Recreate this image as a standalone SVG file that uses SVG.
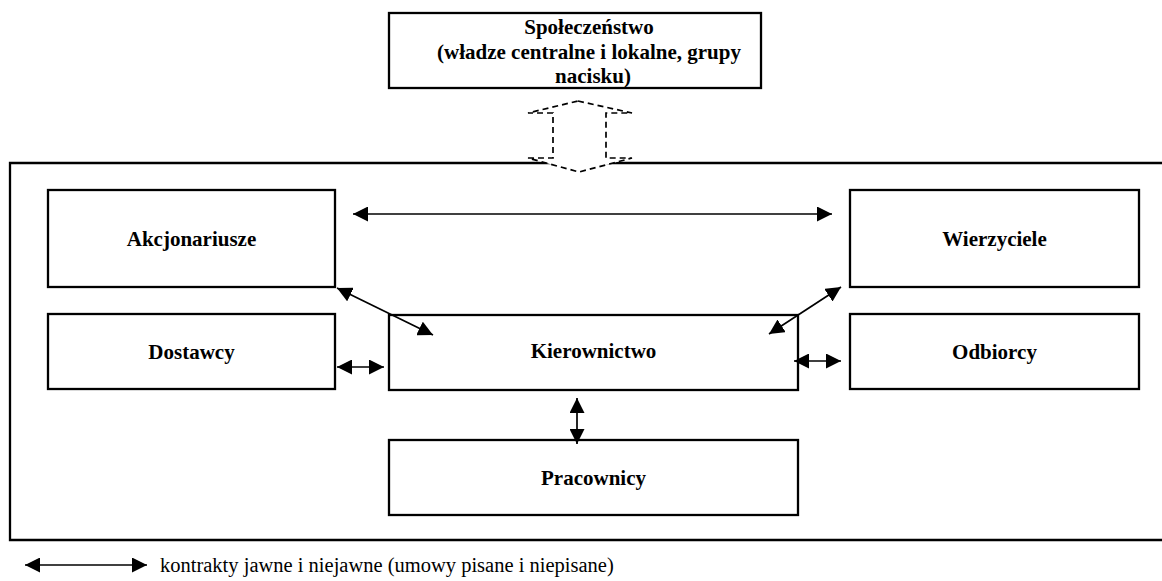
<svg xmlns="http://www.w3.org/2000/svg" width="1162" height="581" viewBox="0 0 1162 581">
  <style>
    .box { fill: #fff; stroke: #000; stroke-width: 2.3; }
    .frame { fill: none; stroke: #000; stroke-width: 2.3; }
    .lbl { font-family: "Liberation Serif", "Times New Roman", serif; font-weight: bold; font-size: 21px; text-anchor: middle; fill: #000; }
    .legend { font-family: "Liberation Serif", "Times New Roman", serif; font-size: 20.5px; fill: #000; }
    .link { fill: none; stroke: #000; stroke-width: 1.7; marker-start: url(#head); marker-end: url(#head); }
    .block { fill: #fff; stroke: #000; stroke-width: 1.7; stroke-dasharray: 6 4; }
  </style>
  <defs>
    <marker id="head" viewBox="0 0 15 15" refX="15" refY="7.5" markerWidth="15" markerHeight="15" markerUnits="userSpaceOnUse" orient="auto-start-reverse">
      <path d="M0,0 L15,7.5 L0,15 z" fill="#000"/>
    </marker>
  </defs>

  <!-- enterprise boundary (open on the right) -->
  <path id="enterprise" class="frame" d="M1162,163 H10 V540 H1162"/>

  <g id="spoleczenstwo">
    <rect class="box" x="389" y="13" width="372" height="75"/>
    <text class="lbl" x="589" y="34">Społeczeństwo</text>
    <text class="lbl" x="589" y="58.5">(władze centralne i lokalne, grupy</text>
    <text class="lbl" x="593" y="83">nacisku)</text>
  </g>

  <g id="akcjonariusze">
    <rect class="box" x="48" y="190" width="287" height="97"/>
    <text class="lbl" x="191.5" y="246">Akcjonariusze</text>
  </g>
  <g id="wierzyciele">
    <rect class="box" x="850" y="190" width="289" height="97"/>
    <text class="lbl" x="994.5" y="246">Wierzyciele</text>
  </g>
  <g id="dostawcy">
    <rect class="box" x="48" y="314" width="287" height="75"/>
    <text class="lbl" x="191.5" y="358.5">Dostawcy</text>
  </g>
  <g id="kierownictwo">
    <rect class="box" x="389" y="315" width="409" height="75"/>
    <text class="lbl" x="593.5" y="358">Kierownictwo</text>
  </g>
  <g id="odbiorcy">
    <rect class="box" x="850" y="314" width="289" height="75"/>
    <text class="lbl" x="994.5" y="358.5">Odbiorcy</text>
  </g>
  <g id="pracownicy">
    <rect class="box" x="389" y="440" width="409" height="75"/>
    <text class="lbl" x="593.5" y="485">Pracownicy</text>
  </g>

  <g id="connectors">
    <!-- society <-> enterprise, dashed block arrow -->
    <path class="block" d="M578,101 L632,113 H606 V158 H632 L579,172 L528,158 H553 V113 H528 Z"/>
    <line class="link" x1="353" y1="214" x2="832" y2="214"/>
    <line class="link" x1="337" y1="288" x2="433" y2="335"/>
    <line class="link" x1="841" y1="287" x2="769" y2="334"/>
    <line class="link" x1="337" y1="367" x2="384" y2="367"/>
    <line class="link" x1="794" y1="361" x2="841" y2="361"/>
    <line class="link" x1="577" y1="398" x2="577" y2="444"/>
  </g>

  <g id="legend">
    <line class="link" x1="25" y1="565" x2="147" y2="565"/>
    <text class="legend" x="160" y="572">kontrakty jawne i niejawne (umowy pisane i niepisane)</text>
  </g>
</svg>
